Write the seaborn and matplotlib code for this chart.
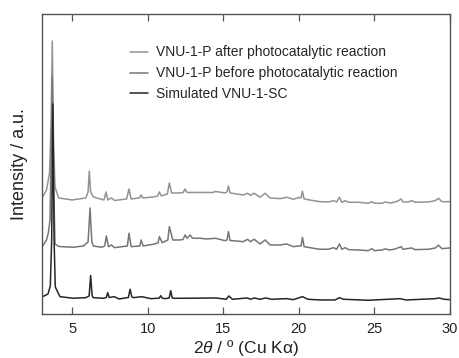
import pandas as pd
import seaborn as sns
import matplotlib.pyplot as plt

# XRD patterns (2theta in degrees, intensity in arbitrary units, offset already applied)
after_x = [3.0, 3.3, 3.5, 3.6, 3.68, 3.76, 3.86, 4.1, 5.0, 5.9, 6.05, 6.13, 6.22, 6.4, 7.1, 7.24, 7.36,
           7.6, 7.8, 8.6, 8.76, 8.9, 9.45, 9.56, 9.68, 10.37, 10.65, 10.77, 10.9, 11.3, 11.43, 11.58,
           12.14, 12.35, 12.47, 12.6, 12.8, 14.3, 14.5, 15.1, 15.25, 15.34, 15.45, 16.33, 16.6, 16.8,
           17.04, 17.44, 17.77, 18.1, 18.76, 19.2, 19.64, 20.0, 20.15, 20.24, 20.35, 20.97, 21.4, 21.96,
           22.3, 22.5, 22.69, 22.85, 23.07, 23.3, 23.95, 24.6, 24.83, 25.0, 25.5, 25.7, 26.05, 26.38,
           26.6, 26.77, 26.9, 27.25, 27.48, 27.7, 28.58, 29.03, 29.25, 29.47, 30.0]
after_y = [116, 124, 141, 190, 273, 175, 127, 116, 114, 116, 122, 143, 122, 117, 114, 122, 114,
           116, 113.5, 115, 125, 115, 116, 119, 116, 117, 118, 122, 118, 120, 131, 121,
           121, 121.5, 125, 121.5, 121.5, 121.5, 122.5, 121, 122, 128, 121, 119, 120.7, 118.7,
           120.7, 116.7, 120.7, 116, 115.3, 116.7, 114.7, 116.5, 116, 122.7, 115, 113.3, 112.3, 112,
           113.3, 112, 116.7, 111.7, 113.3, 111.7, 111.7, 110.7, 112.3, 110.7, 110.7, 112, 111, 112,
           113.3, 115, 112, 112, 113.3, 111.7, 112, 113.3, 115.7, 112.3, 112.3]

before_x = [3.0, 3.3, 3.42, 3.53, 3.62, 3.68, 3.74, 3.86, 4.1, 5.07, 5.74, 6.05, 6.18, 6.3, 6.4, 6.95,
            7.15, 7.26, 7.4, 7.6, 7.8, 8.65, 8.76, 8.9, 9.48, 9.56, 9.7, 10.37, 10.68, 10.77, 10.96,
            11.33, 11.43, 11.66, 12.14, 12.34, 12.47, 12.6, 12.8, 12.97, 13.46, 13.9, 14.5, 15.1, 15.25,
            15.34, 15.45, 16.33, 16.6, 16.8, 17.04, 17.44, 17.77, 18.1, 18.76, 19.2, 19.64, 20.0, 20.15,
            20.24, 20.35, 20.97, 21.4, 21.96, 22.3, 22.5, 22.69, 22.85, 23.07, 23.3, 23.95, 24.6, 24.83,
            25.0, 25.5, 25.7, 26.05, 26.38, 26.77, 26.9, 27.48, 27.7, 28.58, 29.03, 29.25, 29.47, 30.0]
before_y = [67, 74, 81, 94, 170, 237, 150, 70, 67.5, 66.7, 68, 72, 106, 72, 68, 66.7,
            68, 78, 67.3, 69, 66.3, 68, 80.7, 67.3, 68, 74, 68, 69.7, 71, 77.3, 71.3,
            74, 87.3, 74, 74, 74.5, 79, 75.7, 79, 75.7, 75.7, 75, 75.7, 73.3, 74,
            82.3, 73.5, 72.3, 74.7, 72.3, 74.7, 70, 74, 69, 69, 70, 67.3, 68, 68,
            76.7, 67.3, 65.7, 64.7, 64.7, 66.3, 64.7, 70, 64.7, 66.3, 64.3, 64, 63.3, 65.3,
            63.3, 64, 65, 64, 65, 67.3, 64.7, 66, 64.3, 64.7, 66, 68.7, 65.3, 66]

sim_x = [3.0, 3.4, 3.55, 3.64, 3.72, 3.8, 3.88, 4.19, 5.07, 5.9, 6.12, 6.22, 6.32, 6.4, 7.06, 7.26,
         7.35, 7.45, 7.56, 7.78, 8.1, 8.72, 8.83, 8.95, 9.05, 9.6, 10.2, 10.76, 10.86, 10.96, 11.15,
         11.42, 11.52, 11.62, 11.74, 12.4, 14.5, 15.2, 15.37, 15.6, 16.6, 16.8, 17.04, 17.44, 17.8,
         18.2, 19.2, 19.64, 20.24, 20.6, 21.4, 22.4, 22.69, 22.96, 24.6, 26.7, 27.1, 29.03, 29.3,
         29.6, 30.0]
sim_y = [17, 20, 28, 74, 210, 74, 27, 17.3, 15.7, 16.3, 18, 38.5, 18, 16.3, 15.7, 16.5,
         21.3, 16.5, 16.7, 17.3, 15, 16.5, 24.7, 17, 16.3, 17.3, 15.3, 15.8, 18.3, 15.8, 15.3,
         16, 23.3, 16, 15.7, 15.7, 16, 14.7, 18, 14.7, 16, 14.7, 16, 14.7, 16,
         14.7, 15.3, 14.3, 17.3, 14.7, 14, 14, 16.3, 14.7, 13.7, 15.3, 14, 15.3, 16,
         14.7, 14.3]

labels = ['VNU-1-P after photocatalytic reaction',
          'VNU-1-P before photocatalytic reaction',
          'Simulated VNU-1-SC']
colors = ['#939393', '#767676', '#262626']

df = pd.concat([
    pd.DataFrame({'x': after_x, 'y': after_y, 'sample': labels[0]}),
    pd.DataFrame({'x': before_x, 'y': before_y, 'sample': labels[1]}),
    pd.DataFrame({'x': sim_x, 'y': sim_y, 'sample': labels[2]}),
])

sns.set_style('ticks')
plt.rcParams['font.family'] = ['Liberation Sans', 'DejaVu Sans']
plt.rcParams['mathtext.fontset'] = 'custom'
plt.rcParams['mathtext.rm'] = 'Liberation Sans'
plt.rcParams['mathtext.it'] = 'Liberation Sans:italic'

fig, ax = plt.subplots(figsize=(4.6, 3.58), dpi=100)
fig.subplots_adjust(left=0.0913, right=0.978, bottom=0.123, top=0.961)

sns.lineplot(data=df, x='x', y='y', hue='sample', hue_order=labels,
             palette=dict(zip(labels, colors)), estimator=None, linewidth=1.1, ax=ax)

ax.set_xlim(3, 30)
ax.set_ylim(0, 300)
ax.set_xticks([5, 10, 15, 20, 25, 30])
ax.set_yticks([])
ax.tick_params(axis='x', direction='in', top=True, length=5, width=0.9,
               color='#555555', labelsize=10.5, labelcolor='#222222', pad=6)
for s in ax.spines.values():
    s.set_color('#555555')
    s.set_linewidth(1.0)

ax.set_xlabel(r'$2\mathit{\theta}$ / º (Cu Kα)', fontsize=12.5, color='#222222', labelpad=1)
ax.set_ylabel('Intensity / a.u.', fontsize=13, color='#222222', labelpad=10)

ax.legend(loc='upper left', bbox_to_anchor=(0.216, 0.895), frameon=False, fontsize=10,
          handlelength=1.3, handletextpad=0.6, labelspacing=0.5, borderpad=0, borderaxespad=0)

fig.savefig('out.png', dpi=100)
